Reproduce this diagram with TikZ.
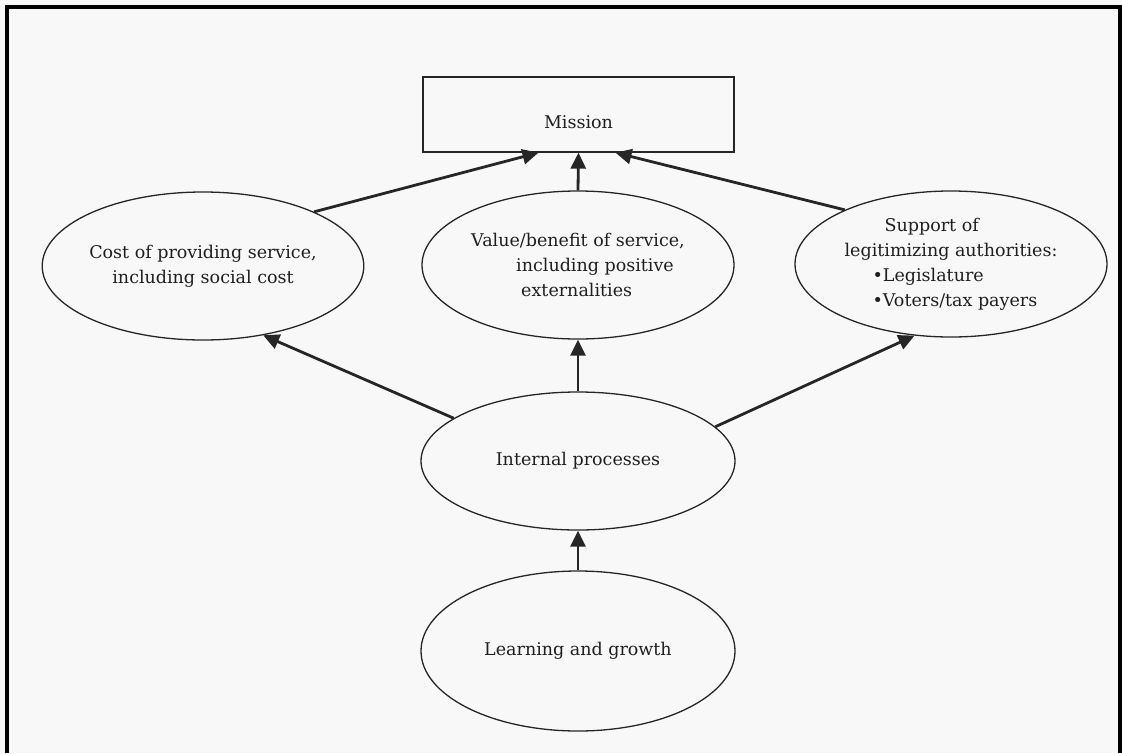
\documentclass[tikz,border=0pt]{standalone}
\usepackage{fontspec}
\setmainfont{DejaVu Serif}
\usetikzlibrary{shapes.geometric,arrows.meta,calc}
\definecolor{ink}{HTML}{262626}
\definecolor{paper}{HTML}{F8F8F8}
\begin{document}
\begin{tikzpicture}[x=1pt,y=-1pt,
  txt/.style={text=black!88, font=\fontsize{17.5}{25}\selectfont},
  bubble/.style={ellipse, draw=ink, line width=1.3pt, inner sep=0pt, txt},
  link/.style={draw=ink, line width=2.8pt, -{Triangle[length=16pt,width=15pt]}},
]
\useasboundingbox (0,0) rectangle (1122,753);
\fill[paper] (0,0) rectangle (1122,753);
\draw[black, line width=3.2pt] (7,753) -- (7,7) -- (1120,7) -- (1120,753);

\node[draw=ink, line width=1.3pt, minimum width=311pt, minimum height=75pt, inner sep=0pt,
      text height=27pt, text depth=0pt, txt] (mission) at (578.5,114.5) {Mission};

\node[bubble, minimum width=316pt, minimum height=148pt, align=center] (cost) at (203,266)
  {Cost of providing service,\\including social cost};
\node[bubble, minimum width=312pt, minimum height=148pt, align=left] (value) at (578,265)
  {Value/benefit of service,\\\hspace*{45pt}including positive\\\hspace*{50pt}externalities};
\node[bubble, minimum width=312pt, minimum height=146pt, align=left] (support) at (951,264)
  {\hspace*{40pt}Support of\\legitimizing authorities:\\\hspace*{28pt}\textbullet Legislature\\\hspace*{28pt}\textbullet Voters/tax payers};
\node[bubble, minimum width=314pt, minimum height=138pt] (internal) at (578,461) {Internal processes};
\node[bubble, minimum width=314pt, minimum height=160pt] (learning) at (578,651) {Learning and growth};

\draw[link] (cost.26) -- ($(mission.south)+(-40,0)$);
\draw[link] (value.north) -- (mission.south);
\draw[link] (support.153) -- ($(mission.south)+(37,0)$);
\draw[link] (internal.161) -- (cost.-49);
\draw[link] (internal.north) -- (value.south);
\draw[link] (internal.14) -- (support.-117);
\draw[link] (learning.north) -- (internal.south);
\end{tikzpicture}
\end{document}
